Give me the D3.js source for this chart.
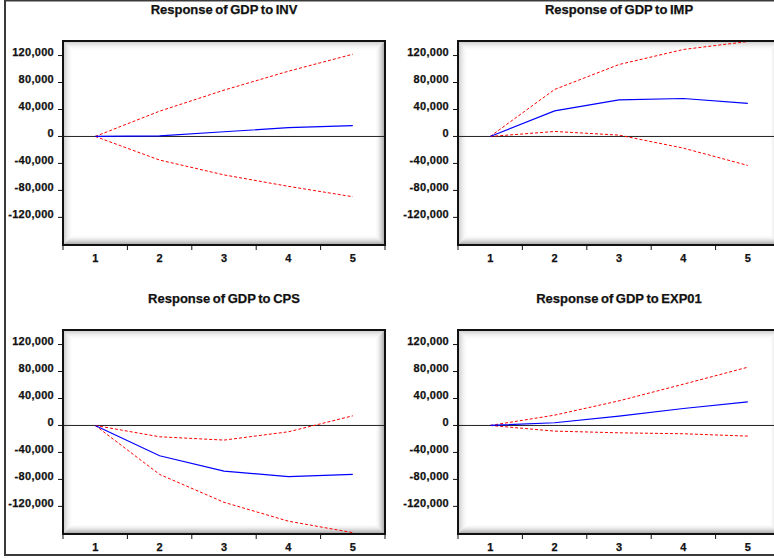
<!DOCTYPE html>
<html>
<head>
<meta charset="utf-8">
<script src="https://cdn.jsdelivr.net/npm/d3@7"></script>
<style>
  body { margin: 0; background: #fff; }
  text { font-family: "Liberation Sans", Arial, sans-serif; font-weight: bold; fill: #111;
         stroke: #111; stroke-width: 0.25px; }
</style>
</head>
<body>
<div id="chart"></div>
<script>
// periods on the x axis and tick values on the y axis
const periods = [1, 2, 3, 4, 5];
const yTickValues = [120000, 80000, 40000, 0, -40000, -80000, -120000];
const titles = ["Response of GDP to INV", "Response of GDP to IMP",
                "Response of GDP to CPS", "Response of GDP to EXP01"];

// impulse responses (blue) with +/- 2 s.e. bands (red dashed)
const invResp  = [0, 1000, 7000, 13000, 16000];
const invUpper = [0, 37500, 68700, 96800, 122000];
const invLower = [0, -35000, -57000, -74000, -89400];

const impResp  = [0, 38000, 54300, 56300, 49000];
const impUpper = [0, 69700, 106700, 129000, 140800];
const impLower = [0, 7400, 2000, -17300, -43000];

const cpsResp  = [0, -45000, -67700, -76000, -72600];
const cpsUpper = [0, -16800, -21700, -9400, 14300];
const cpsLower = [0, -72600, -114000, -142000, -159000];

const expResp  = [0, 4000, 13800, 25200, 35000];
const expUpper = [0, 15300, 36500, 61200, 86400];
const expLower = [0, -8400, -10900, -12300, -15800];

const panels = [
  {title: titles[0], resp: invResp, upper: invUpper, lower: invLower},
  {title: titles[1], resp: impResp, upper: impUpper, lower: impLower},
  {title: titles[2], resp: cpsResp, upper: cpsUpper, lower: cpsLower},
  {title: titles[3], resp: expResp, upper: expUpper, lower: expLower}
];

var W = 774, H = 558,
    pw = 322, ph = 204;
var origins = [[63, 41], [458, 41], [63, 330], [458, 330]];

const fmt = d3.formatLocale({decimal: ".", thousands: ",", grouping: [3], currency: ["", ""], minus: "-"}).format(",");

const svg = d3.select("#chart")
  .append("svg")
  .attr("width", W)
  .attr("height", H);

// outer frame
svg.append("rect")
   .attr("x", 5).attr("y", 0.5)
   .attr("width", 820).attr("height", 554.5)
   .attr("fill", "none")
   .attr("stroke", "#3a3a3a")
   .attr("stroke-width", 2);

const x = d3.scaleBand().domain(periods).range([0, pw]);
const y = d3.scaleLinear().domain([-161000, 141600]).range([ph, 0]);

panels.forEach(function(p, k) {
  const g = svg.append("g")
    .attr("transform", `translate(${origins[k][0]}, ${origins[k][1]})`);

  g.append("clipPath").attr("id", "clip" + k)
   .append("rect").attr("width", pw).attr("height", ph);

  g.append("rect").attr("width", pw).attr("height", ph).attr("fill", "#fff");

  // inner shading of the plot frame, heavier on bottom/right
  for (let i = 1; i <= 10; i++) {
    const a = Math.pow(1 - i / 11, 2);
    g.append("rect")
     .attr("x", i - 0.5).attr("y", i - 0.5)
     .attr("width", pw - 2 * i + 1).attr("height", ph - 2 * i + 1)
     .attr("fill", "none")
     .attr("stroke", "#000")
     .attr("stroke-opacity", 0.25 * a);
    g.append("path")
     .attr("d", `M${i - 0.5},${ph - i + 0.5}H${pw - i + 0.5}V${i - 0.5}`)
     .attr("fill", "none")
     .attr("stroke", "#000")
     .attr("stroke-opacity", 0.22 * a);
  }

  g.append("text")
   .attr("x", pw / 2).attr("y", -27)
   .attr("text-anchor", "middle")
   .attr("font-size", 13)
   .attr("letter-spacing", 0)
   .attr("word-spacing", -1)
   .text(p.title);

  // y ticks and labels
  g.selectAll(".ytick").data(yTickValues).enter()
   .append("line")
   .attr("x1", -5).attr("x2", 0)
   .attr("y1", d => y(d)).attr("y2", d => y(d))
   .attr("stroke", "#111");
  g.selectAll(".ylab").data(yTickValues).enter()
   .append("text")
   .attr("x", -9).attr("y", d => y(d) + 0.5)
   .attr("text-anchor", "end")
   .attr("font-size", 11)
   .attr("letter-spacing", 0.3)
   .text(d => fmt(d));

  // x ticks on band edges, labels at band centres
  const edges = periods.map(d => x(d)).concat([x(periods[periods.length - 1]) + x.bandwidth()]);
  g.selectAll(".xtick").data(edges).enter()
   .append("line")
   .attr("x1", d => d).attr("x2", d => d)
   .attr("y1", ph).attr("y2", ph + 5)
   .attr("stroke", "#111");
  g.selectAll(".xlab").data(periods).enter()
   .append("text")
   .attr("x", d => x(d) + x.bandwidth() / 2)
   .attr("y", ph + 17)
   .attr("text-anchor", "middle")
   .attr("font-size", 11)
   .text(d => d);

  const plot = g.append("g").attr("clip-path", `url(#clip${k})`);

  plot.append("line")
   .attr("x1", 0).attr("x2", pw)
   .attr("y1", y(0)).attr("y2", y(0))
   .attr("stroke", "#222");

  const line = d3.line()
    .x((d, i) => x(periods[i]) + x.bandwidth() / 2)
    .y(d => y(d));

  [p.upper, p.lower].forEach(function(s) {
    plot.append("path")
     .attr("d", line(s))
     .attr("fill", "none")
     .attr("stroke", "#ff0000")
     .attr("stroke-width", 1)
     .attr("stroke-dasharray", "3,2");
  });
  plot.append("path")
   .attr("d", line(p.resp))
   .attr("fill", "none")
   .attr("stroke", "#0000ff")
   .attr("stroke-width", 1.2);

  g.append("rect")
   .attr("width", pw).attr("height", ph)
   .attr("fill", "none")
   .attr("stroke", "#111")
   .attr("stroke-width", 2);
});
</script>
</body>
</html>
